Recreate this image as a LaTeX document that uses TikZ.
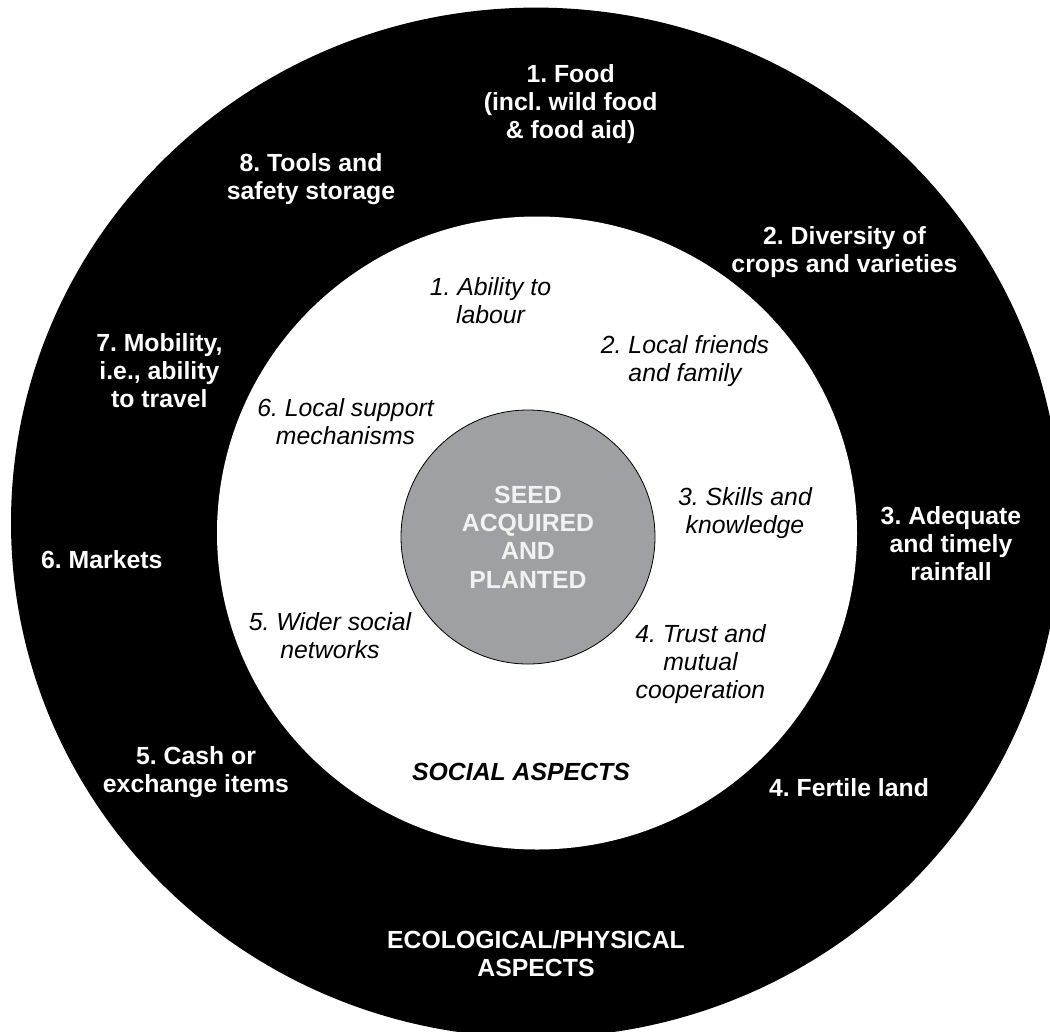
\documentclass[tikz,border=0pt]{standalone}
\usepackage{fontspec}
\setmainfont{Liberation Sans}
\frenchspacing
\definecolor{seedgrey}{RGB}{158,160,163}
\definecolor{seedtext}{RGB}{242,242,242}
\begin{document}
\begin{tikzpicture}[x=0.75pt,y=-0.75pt,
  outer/.style={text=white,font=\fontsize{18.6}{21}\selectfont\bfseries\frenchspacing,align=center,inner sep=0pt},
  inner/.style={text=black,font=\fontsize{18.6}{21}\selectfont\itshape\frenchspacing,align=center,inner sep=0pt},
  seedlbl/.style={text=seedtext,font=\fontsize{18.6}{21.3}\selectfont\bfseries,align=center,inner sep=0pt}]
\useasboundingbox (0,0) rectangle (1050,1032);
\begin{scope}
\clip (0,0) rectangle (1050,1032);
\fill[black] (536,522.6) ellipse [x radius=525, y radius=515];
\end{scope}
\fill[white] (537,533) ellipse [x radius=320, y radius=316.5];
\draw[fill=seedgrey, line width=0.6pt] (528,537) circle [radius=127];
% outer ring labels
\node[outer] (food) at (570.6,104) {1. Food\\(incl. wild food\\\& food aid)};
\node[outer] (tools) at (311,179) {8. Tools and\\safety storage};
\node[outer] (divers) at (844.5,252) {2. Diversity of\\crops and varieties};
\node[outer] (mobil) at (159.4,370.5) {7. Mobility,\\i.e., ability\\to travel};
\node[outer] (market) at (101.8,560) {6. Markets};
\node[outer] (rain) at (951,543.5) {3. Adequate\\and timely\\rainfall};
\node[outer] (cash) at (196,772.5) {5. Cash or\\exchange items};
\node[outer] (land) at (849,788) {4. Fertile land};
\node[outer] (eco) at (536,953.5) {ECOLOGICAL/PHYSICAL\\ASPECTS};
% inner ring labels
\node[inner] (labour) at (490.5,301) {1. Ability to\\labour};
\node[inner] (friends) at (685,361.5) {2. Local friends\\and family};
\node[inner] (support) at (345.5,422) {6. Local support\\mechanisms};
\node[inner] (skills) at (745,513.5) {3. Skills and\\knowledge};
\node[inner] (wider) at (330,635.5) {5. Wider social\\networks};
\node[inner] (trust) at (700.5,664.5) {4. Trust and\\mutual\\cooperation};
\node[inner,font=\fontsize{18.6}{21}\selectfont\bfseries\itshape] (social) at (521,772) {SOCIAL ASPECTS};
% centre
\node[seedlbl] (seed) at (528,537) {SEED\\ACQUIRED\\AND\\PLANTED};
\end{tikzpicture}
\end{document}
